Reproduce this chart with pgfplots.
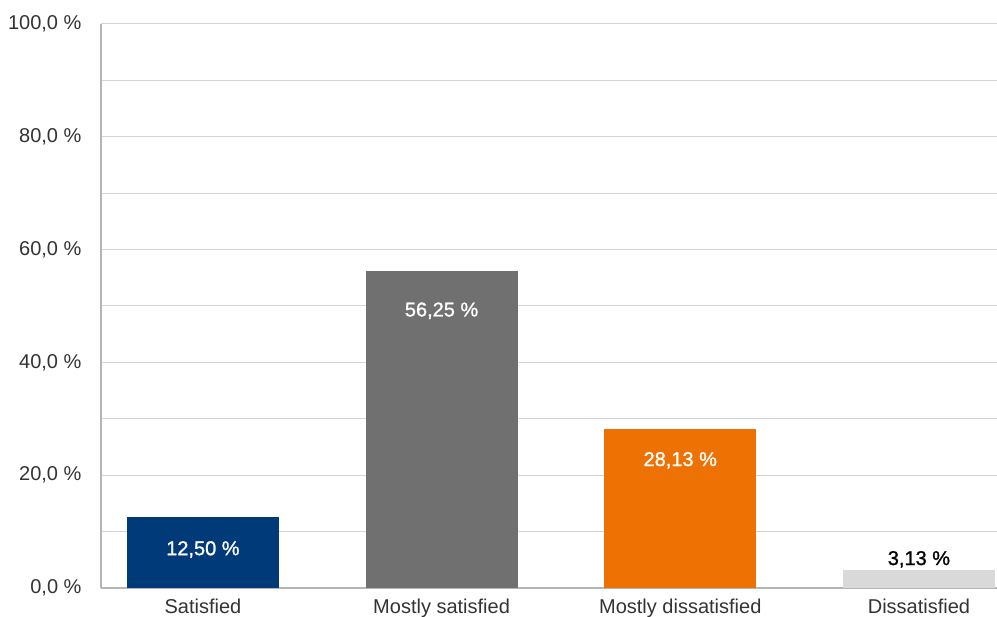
\documentclass[border=0pt]{standalone}
\usepackage{pgfplots}
\pgfplotsset{compat=1.18}
\usepackage{fontspec}
\setmainfont{Liberation Sans}
\newfontfamily\valfont[FakeBold=1.2]{Liberation Sans}

\definecolor{cNavy}{HTML}{003A78}
\definecolor{cGray}{HTML}{707070}
\definecolor{cOrange}{HTML}{EE7203}
\definecolor{cLight}{HTML}{D9D9D9}
\definecolor{cAxis}{HTML}{B5B5B5}
\definecolor{cGrid}{HTML}{D4D4D4}
\definecolor{cText}{HTML}{333333}

\begin{document}
\begin{tikzpicture}
\begin{axis}[
  name=ax,
  at={(0,0)}, anchor=south west,
  scale only axis,
  width=896pt, height=564pt,
  xmin=-0.427, xmax=3.327,
  ymin=0, ymax=100,
  axis lines=left,
  axis line style={cAxis, line width=2pt, -},
  ytick={0,20,40,60,80,100},
  yticklabels={{0,0 \%},{20,0 \%},{40,0 \%},{60,0 \%},{80,0 \%},{100,0 \%}},
  minor ytick={10,30,50,70,90},
  ymajorgrids, yminorgrids,
  major grid style={cGrid, line width=1pt},
  minor grid style={cGrid, line width=1pt},
  xtick={0,1,2,3},
  xticklabels={Satisfied,Mostly satisfied,Mostly dissatisfied,Dissatisfied},
  major tick length=0pt, minor tick length=0pt,
  tick label style={font=\fontsize{20}{24}\selectfont, text=cText},
  yticklabel style={xshift=-16pt},
  xticklabel style={yshift=-7pt},
  ybar, bar width=152pt, bar shift=0pt,
  /pgf/number format/.cd, use comma, fixed, fixed zerofill, precision=2, assume math mode=true,
  /pgfplots/.cd,
  nodes near coords={\pgfmathprintnumber{\pgfplotspointmeta}\ \%},
  every node near coord/.append style={font=\valfont\fontsize{20}{24}\selectfont, anchor=center},
]
\addplot[fill=cNavy, draw=none, nodes near coords style={text=white, yshift=-32pt}]
  coordinates {(0,12.50)};
\addplot[fill=cGray, draw=none, nodes near coords style={text=white, yshift=-40pt}]
  coordinates {(1,56.25)};
\addplot[fill=cOrange, draw=none, nodes near coords style={text=white, yshift=-31pt}]
  coordinates {(2,28.13)};
\addplot[fill=cLight, draw=none, nodes near coords style={text=black, yshift=11pt}]
  coordinates {(3,3.13)};
\end{axis}
\pgfresetboundingbox
\path[use as bounding box] (-101pt,-29pt) rectangle (896pt,588pt);
\end{tikzpicture}
\end{document}
